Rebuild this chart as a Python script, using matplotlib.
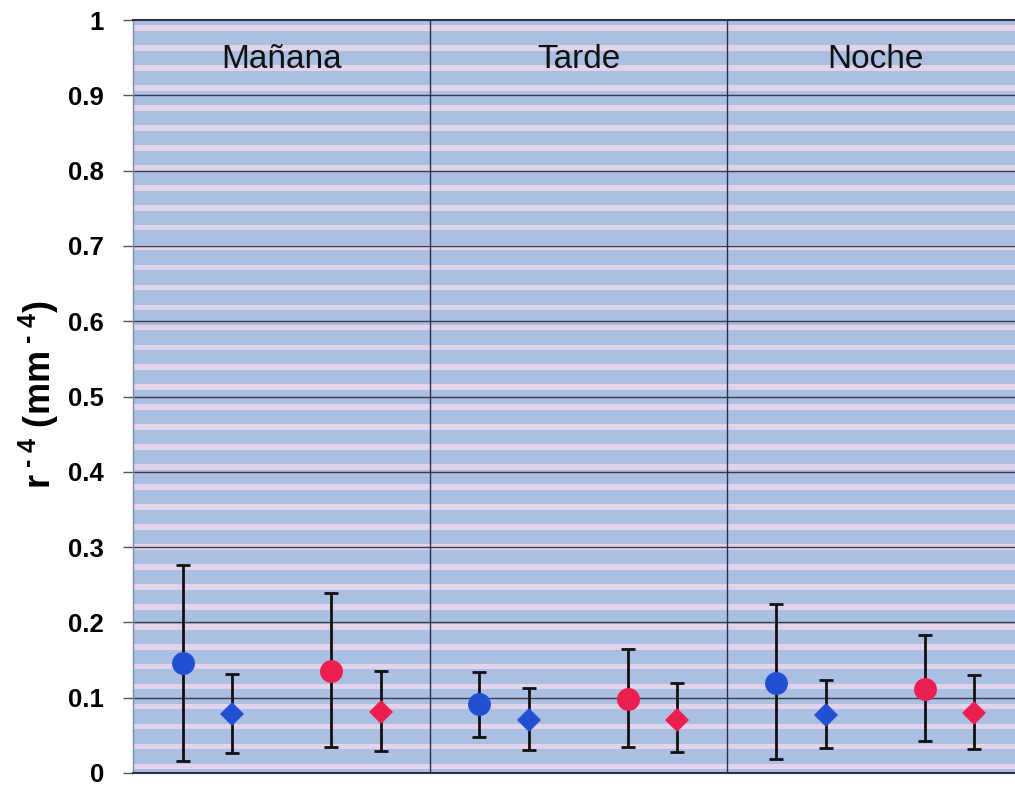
import numpy as np
import matplotlib
matplotlib.use("Agg")
import matplotlib.pyplot as plt

plt.rcParams['font.family'] = ['Liberation Sans', 'DejaVu Sans']
plt.rcParams['mathtext.fontset'] = 'custom'
plt.rcParams['mathtext.rm'] = 'Liberation Sans:bold'
plt.rcParams['mathtext.bf'] = 'Liberation Sans:bold'
plt.rcParams['mathtext.default'] = 'rm'

# ---- data ----
periods = ["Mañana", "Tarde", "Noche"]
blue_circle = [0.146, 0.091, 0.120]
blue_circle_lo = [0.016, 0.048, 0.019]
blue_circle_hi = [0.276, 0.134, 0.224]
blue_diamond = [0.079, 0.070, 0.077]
blue_diamond_lo = [0.027, 0.031, 0.033]
blue_diamond_hi = [0.132, 0.113, 0.124]
red_circle = [0.136, 0.098, 0.111]
red_circle_lo = [0.035, 0.034, 0.042]
red_circle_hi = [0.239, 0.165, 0.183]
red_diamond = [0.081, 0.071, 0.080]
red_diamond_lo = [0.029, 0.028, 0.032]
red_diamond_hi = [0.135, 0.119, 0.130]
y_ticks = [0, 0.1, 0.2, 0.3, 0.4, 0.5, 0.6, 0.7, 0.8, 0.9, 1]
y_ticklabels = ["0", "0.1", "0.2", "0.3", "0.4", "0.5", "0.6", "0.7", "0.8", "0.9", "1"]

W, H = 1015, 787
fig = plt.figure(figsize=(W / 100, H / 100), dpi=100)
ax = fig.add_axes([133 / W, 14 / H, 891 / W, 753 / H])
ax.set_xlim(0, 3)
ax.set_ylim(0, 1)

BLUE_BG = '#abbfe3'
PINK = '#e2d2ea'
ax.set_facecolor(BLUE_BG)
period = 0.0265
for y0 in np.arange(0.005, 1.0, period):
    ax.axhspan(y0, y0 + 0.0075, color=PINK, lw=0, zorder=0)

for yt in y_ticks[1:-1]:
    ax.axhline(yt, color='#3a3a4a', lw=1.0, zorder=1)
for xv in [1, 2]:
    ax.axvline(xv, color='#2a3050', lw=1.0, zorder=1)

idx = np.arange(len(periods))
series = [
    (blue_circle, blue_circle_lo, blue_circle_hi, 1 / 6, 'o', '#2150d2', 16.5),
    (blue_diamond, blue_diamond_lo, blue_diamond_hi, 2 / 6, 'D', '#2150d2', 12),
    (red_circle, red_circle_lo, red_circle_hi, 4 / 6, 'o', '#ec2050', 16.5),
    (red_diamond, red_diamond_lo, red_diamond_hi, 5 / 6, 'D', '#ec2050', 12),
]
for vals, lo, hi, off, mk, col, ms in series:
    vals = np.array(vals)
    yerr = np.vstack([vals - np.array(lo), np.array(hi) - vals])
    ax.errorbar(idx + off, vals, yerr=yerr, fmt='none', ecolor='#111111',
                elinewidth=2, capsize=5, capthick=2, zorder=3)
    ax.plot(idx + off, vals, linestyle='none', marker=mk, markersize=ms,
            color=col, markeredgewidth=0, zorder=4)

for i, name in enumerate(periods):
    ax.text(i + 0.5, 0.947, name, ha='center', va='center', fontsize=24,
            color='#111111', zorder=5)

ax.set_xticks([])
ax.set_yticks(y_ticks)
ax.set_yticklabels(y_ticklabels, fontsize=18.5, fontweight='bold')
ax.tick_params(axis='y', length=7, width=1, color='#555555', pad=14)

ax.spines['left'].set_color('#7a8aa8')
ax.spines['left'].set_linewidth(1)
ax.spines['top'].set_color('#333344')
ax.spines['top'].set_linewidth(1.5)
ax.spines['bottom'].set_color('#333344')
ax.spines['bottom'].set_linewidth(1.5)
ax.spines['right'].set_visible(False)

fig.text(39 / W, 1 - 395 / H, r'r$^{\text{ - 4}}$ (mm$^{\text{ - 4}}$)', rotation=90,
         ha='center', va='center', fontsize=26, fontweight='bold')

fig.savefig('out.png', dpi=100)
